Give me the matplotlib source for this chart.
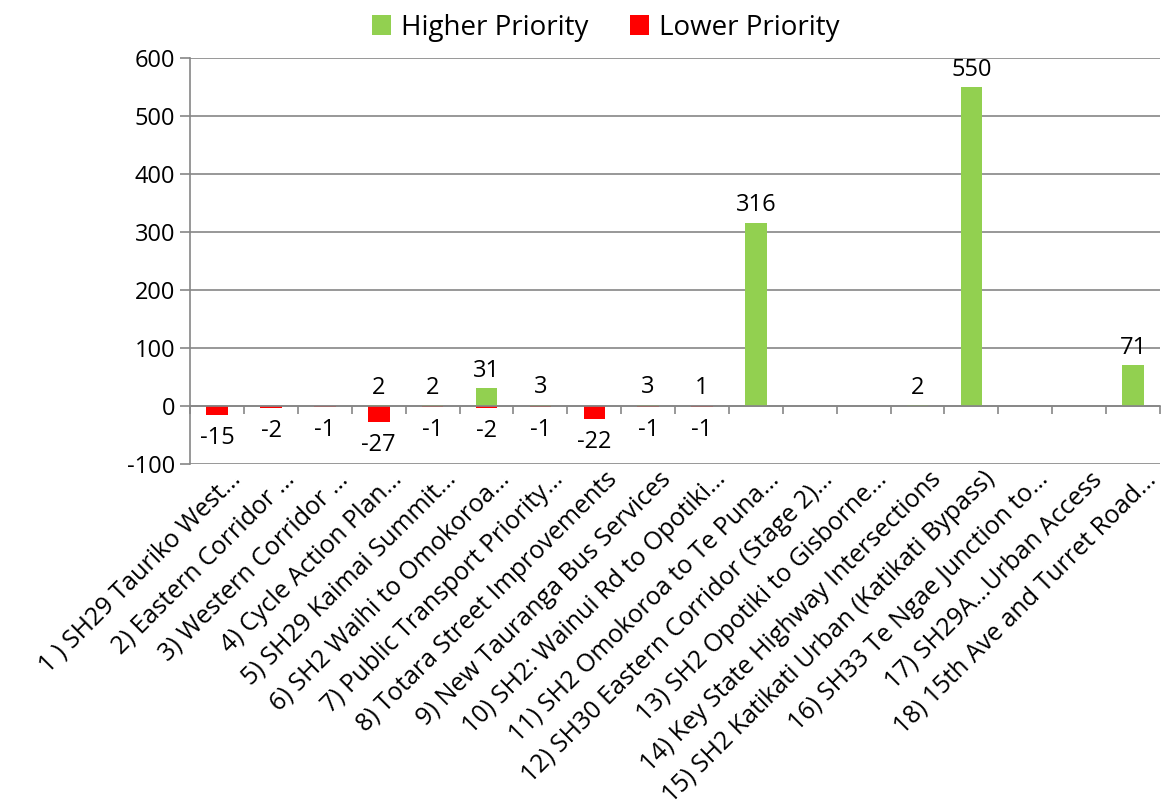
import matplotlib
matplotlib.use("Agg")
import matplotlib.pyplot as plt
import numpy as np
from matplotlib.patches import Patch
import matplotlib.transforms as mtransforms

categories = [
    "1 ) SH29 Tauriko West…",
    "2) Eastern Corridor …",
    "3) Western Corridor …",
    "4) Cycle Action Plan…",
    "5) SH29 Kaimai Summit…",
    "6) SH2 Waihi to Omokoroa…",
    "7) Public Transport Priority…",
    "8) Totara Street Improvements",
    "9) New Tauranga Bus Services",
    "10) SH2: Wainui Rd to Opotiki…",
    "11) SH2 Omokoroa to Te Puna…",
    "12) SH30 Eastern Corridor (Stage 2)…",
    "13) SH2 Opotiki to Gisborne…",
    "14) Key State Highway Intersections",
    "15) SH2 Katikati Urban (Katikati Bypass)",
    "16) SH33 Te Ngae Junction to…",
    "17) SH29A…Urban Access",
    "18) 15th Ave and Turret Road…",
]
higher = [None, None, None, 2, 2, 31, 3, None, 3, 1, 316, None, None, 2, 550, None, None, 71]
lower = [-15, -2, -1, -27, -1, -2, -1, -22, -1, -1, None, None, None, None, None, None, None, None]

GREEN = "#92D050"
RED = "#FF0000"
GRID = "#868686"
FONT = ["Open Sans", "DejaVu Sans"]
plt.rcParams["font.family"] = FONT
plt.rcParams["axes.unicode_minus"] = False

fig = plt.figure(figsize=(11.67, 8.09), dpi=100)
ax = fig.add_axes([0.163, 0.426, 0.831, 0.502])

x = np.arange(len(categories))
hv = np.array([np.nan if v is None else v for v in higher], dtype=float)
lv = np.array([np.nan if v is None else v for v in lower], dtype=float)
w = 0.4
ax.bar(x, np.nan_to_num(hv), width=w, color=GREEN, zorder=3)
ax.bar(x, np.nan_to_num(lv), width=w, color=RED, zorder=3)

fs = 17
for xi, v in zip(x, hv):
    if not np.isnan(v):
        ax.annotate(f"{int(v)}", (xi, max(v, 0)), xytext=(0, 4), textcoords="offset points",
                    ha="center", va="bottom", fontsize=fs)
for xi, v in zip(x, lv):
    if not np.isnan(v):
        ax.annotate(f"{int(v)}", (xi, min(v, 0)), xytext=(0, -8), textcoords="offset points",
                    ha="center", va="top", fontsize=fs)

ax.set_ylim(-100, 600)
ax.set_xlim(-0.5, len(categories) - 0.5)
ax.set_yticks(np.arange(-100, 601, 100))
ax.tick_params(axis="y", labelsize=fs, length=7, color=GRID, width=1.2, pad=4)
ax.yaxis.grid(True, color=GRID, linewidth=1.2, zorder=0)
ax.set_axisbelow(True)

for s in ["top", "right"]:
    ax.spines[s].set_visible(False)
ax.spines["left"].set_color(GRID)
ax.spines["left"].set_linewidth(1.2)
ax.spines["bottom"].set_position(("data", 0))
ax.spines["bottom"].set_color(GRID)
ax.spines["bottom"].set_linewidth(1.2)
ax.spines["bottom"].set_zorder(4)
ax.set_xticks(np.arange(-0.5, len(categories) - 0.4, 1.0))
ax.set_xticklabels([])
ax.tick_params(axis="x", length=6, color=GRID, width=1.2, direction="out")

trans = mtransforms.blended_transform_factory(ax.transData, ax.transAxes)
for xi, lab in zip(x, categories):
    ax.text(xi + 0.2, -0.006, lab, transform=trans, rotation=45, ha="right", va="top",
            rotation_mode="anchor", fontsize=18)

handles = [Patch(facecolor=GREEN, label="Higher Priority"), Patch(facecolor=RED, label="Lower Priority")]
fig.legend(handles=handles, loc="center", bbox_to_anchor=(0.519, 0.966), ncol=2, frameon=False,
           fontsize=20, handlelength=0.7, handleheight=0.7, handletextpad=0.35, columnspacing=1.5)

fig.savefig("out.png", dpi=100)
